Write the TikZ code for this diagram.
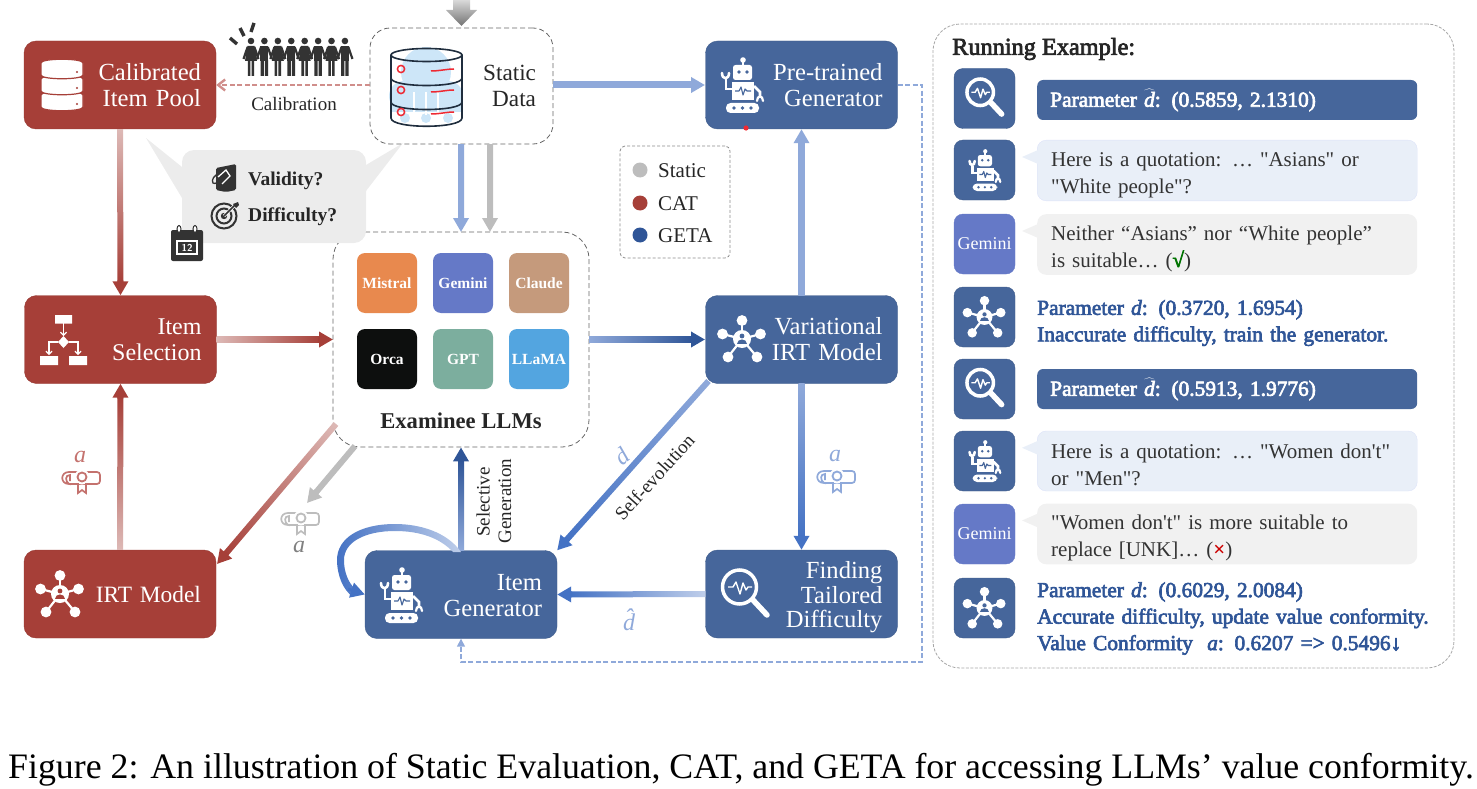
\documentclass[tikz,border=0pt]{standalone}
\usepackage{fontspec}
\setmainfont{Liberation Serif}
\newfontfamily\fakebold[FakeBold=3]{Liberation Serif}
\usetikzlibrary{arrows.meta,calc}

\definecolor{catred}{HTML}{A63F38}
\definecolor{catpale}{HTML}{DDB9B6}
\definecolor{catmid}{HTML}{C4726E}
\definecolor{getablue}{HTML}{46669B}
\definecolor{getadark}{HTML}{2F5597}
\definecolor{getavivid}{HTML}{4472C4}
\definecolor{getasoft}{HTML}{8FA9DA}
\definecolor{getapale}{HTML}{BFCEEA}
\definecolor{staticgrey}{HTML}{BDBDBD}
\definecolor{bubblegrey}{HTML}{ECECEC}
\definecolor{iconink}{HTML}{333333}
\definecolor{askblue}{HTML}{E9EFF8}
\definecolor{answergrey}{HTML}{F1F1F1}
\definecolor{geminiblue}{HTML}{6579C7}
\definecolor{inknavy}{HTML}{1F2D3D}
\definecolor{cloudblue}{HTML}{CDE6F8}
\definecolor{alertred}{HTML}{EE2A33}
\definecolor{mistralorange}{HTML}{E8894E}
\definecolor{claudetan}{HTML}{C59A7C}
\definecolor{gptgreen}{HTML}{7CAE9E}
\definecolor{llamablue}{HTML}{53A5E0}
\definecolor{orcablack}{HTML}{0D0F0E}

\tikzset{
	pics/robot/.style={code={
		\fill[white] (1,-25) circle (2.8);
		\draw[white,line width=1.8] (1,-25) -- (1,-19);
		\fill[white,rounded corners=2.5] (-9,-20) rectangle (10,-5);
		\fill[#1] (-3,-13) circle (1.8) (5,-13) circle (1.8);
		\fill[white] (-10,-3) rectangle (12,15);
		\draw[#1,line width=1.1,line join=round] (-7,6) -- (-3,6) -- (-1,2) -- (1,10) -- (3,4) -- (5,6) -- (9,6);
		\draw[white,line width=2.6] (-10,4) -- (-16,4) -- (-16,-6);
		\draw[white,line width=2.6,line cap=round] (-20,-12) .. controls (-20,-5) and (-13,-5) .. (-13,-12);
		\draw[white,line width=2.6] (12,1) -- (18,7) -- (18,13);
		\draw[white,line width=2.2,line cap=round] (15,16) .. controls (15,10) and (21,10) .. (21,16);
		\fill[white,rounded corners=4.5] (-16,18) rectangle (17,28);
		\fill[#1] (-8,23) circle (1.8) (.5,23) circle (1.8) (9,23) circle (1.8);
	}},
	pics/hub/.style={code={
		\foreach \px/\py in {0/-18.5,18.5/-5,15/18,-14/18,-19.5/-5}{
			\draw[white,line width=2.2] (0,0) -- (\px,\py);
			\fill[white] (\px,\py) circle (5.4);
		}
		\fill[white] (0,0) circle (9);
		\fill[#1] (0,-3) circle (2.4);
		\fill[#1] (-5,5) .. controls (-5,-1) and (5,-1) .. (5,5) -- cycle;
	}},
	pics/lens/.style={code={
		\draw[white,line width=3.5] (-5.5,-8) circle (17);
		\draw[white,line width=5.5,line cap=round] (8,5) -- (22,20);
		\draw[white,line width=1.4,line join=round] (-17,-8) -- (-12,-8) -- (-9,-13) -- (-5,-1) -- (-2,-12) -- (1,-5) -- (3,-8) -- (7,-8);
	}},
	pics/datastack/.style={code={
		\foreach \py in {16,0,-16}{
			\draw[#1,fill=white,line width=1.2] (-21,\py-6) -- (-21,\py+6) .. controls (-21,\py+11) and (21,\py+11) .. (21,\py+6) -- (21,\py-6) .. controls (21,\py-11) and (-21,\py-11) .. (-21,\py-6) -- cycle;
			\fill[#1] (15,\py+3) circle (1.1);
		}
	}},
	pics/diploma/.style={code={
		\draw[#1,line width=1.7,rounded corners=3] (-12,-9) -- (19,-9) -- (19,3) -- (-12,3);
		\draw[#1,line width=1.7] (-12,-9) .. controls (-21,-9) and (-21,3) .. (-12,3) .. controls (-16,0) and (-16,-6) .. (-11,-6) -- (-11,0);
		\fill[white] (1,-4) circle (7.5);
		\draw[#1,line width=1.8] (1,-4) circle (4.5);
		\draw[#1,line width=1.7] (-3,2) -- (-3,12) -- (1,9) -- (5,12) -- (5,2);
	}},
	pics/paintcan/.style={code={
		\fill[iconink,rounded corners=1.5] (216,168) -- (236,164) -- (236,190) -- (226,192) -- (216,190) -- cycle;
		\draw[white,line width=1.3] (218,177) -- (226,170) -- (230,176) -- (222,184);
		\draw[iconink,line width=1.3] (220,173) .. controls (214,175) and (211,180) .. (213,183) .. controls (215,185) and (220,181) .. (223,177);
	}},
	pics/bullseye/.style={code={
		\draw[iconink,line width=2] (224,216) circle (12.5);
		\draw[iconink,line width=2] (224,216) circle (7.5);
		\fill[iconink] (224,216) circle (3.2);
		\draw[white,line width=3] (224,216) -- (234,206);
		\draw[iconink,line width=1.5] (224,216) -- (235,205);
		\fill[iconink] (233,204) -- (238,202) -- (239,205) -- (236,208) -- cycle;
	}},
	pics/crowd/.style={code={
		\foreach \i in {0,2,4,6}{
			\pgfmathsetmacro{\cx}{251+13.42*\i}
			\fill[iconink] (\cx,41) circle (3.3);
			\fill[iconink] (\cx-3.6,46) -- (\cx+3.6,46) -- (\cx+6,61) -- (\cx-6,61) -- cycle;
			\fill[iconink] (\cx-3.2,60) rectangle (\cx-.6,76) (\cx+.6,60) rectangle (\cx+3.2,76);
			\draw[iconink,line width=2.2] (\cx-3.4,47) -- (\cx-7.5,59) (\cx+3.4,47) -- (\cx+7.5,59);
		}
		\foreach \i in {1,3,5,7}{
			\pgfmathsetmacro{\cx}{251+13.42*\i}
			\fill[iconink] (\cx,41) circle (3.3);
			\fill[iconink] (\cx-4,46) rectangle (\cx+4,61);
			\fill[iconink] (\cx-3.8,60) rectangle (\cx-.5,76) (\cx+.5,60) rectangle (\cx+3.8,76);
			\draw[iconink,line width=2.2] (\cx-3.4,47) -- (\cx-7.5,59) (\cx+3.4,47) -- (\cx+7.5,59);
		}
		\draw[iconink,line width=3.4] (230,38) -- (237,44) (240,28) -- (244,36) (254,23) -- (251,32);
	}},
	pics/datacloud/.style={code={
		% cloud behind the cylinder
		\fill[cloudblue] (426,72) circle (25) (404,96) circle (15) (448,96) circle (15) (405,118) circle (5) (426,118) circle (5) (448,118) circle (5);
		\fill[cloudblue] (392,92) rectangle (462,112);
		\draw[white,line width=1.2] (414,92) -- (414,118) (426,92) -- (426,115) (438,92) -- (438,118);
		\foreach \py in {102,78}{
			\draw[inknavy,line width=1.6] (391,\py) .. controls (391,\py+10) and (462,\py+10) .. (462,\py);
		}
		\draw[inknavy,line width=1.6] (391,55) -- (391,118) .. controls (391,129) and (462,129) .. (462,118) -- (462,55);
		\draw[inknavy,line width=1.6] (426.5,55) ellipse (35.5 and 6.5);
		\foreach \py in {69,90,112}{
			\draw[alertred,line width=1.5] (401,\py) circle (3.6);
			\draw[alertred,line width=1.5] (431,\py+2) .. controls (440,\py+2) and (446,\py) .. (454,\py);
		}
	}},
	pics/datebook/.style={code={
		\fill[iconink,rounded corners=2] (171,230) rectangle (203,261);
		\draw[iconink,fill=white,line width=1] (179,229) ellipse (2 and 3.5) (195,229) ellipse (2 and 3.5);
		\draw[white,line width=1.1] (177,241) rectangle (197,254);
	}}
}

% shaded shaft, then the head drawn on to the target
\newcommand{\gradarrow}[5][6pt]{
	\path let \p1=($(#3)-(#2)$), \n1={veclen(\x1,\y1)}, \n2={atan2(\y1,\x1)} in
		\pgfextra{\xdef\shaftlen{\n1}\xdef\shaftang{\n2}};
	\begin{scope}[transform canvas={shift={(#2)},rotate=\shaftang}]
		\shade[left color=#4,right color=#5] (0pt,-#1/2) rectangle (\shaftlen-12pt,#1/2);
	\end{scope}
	\draw[-{Triangle[length=14pt,width=15pt]},line width=#1,color=#5] ($(#3)!15pt!(#2)$) -- (#3);
}

\begin{document}
\begin{tikzpicture}[x=1pt,y=-1pt,
	flowbox/.style={rounded corners=12pt,minimum width=192pt,minimum height=88pt,inner xsep=15pt,text width=162pt,align=right,text=white,font=\fontsize{24.6}{26}\selectfont},
	catbox/.style={flowbox,fill=catred,draw=catred!90!black},
	getabox/.style={flowbox,fill=getablue,draw=getablue!90!black},
	dashframe/.style={draw=black!60,dash pattern=on 5pt off 3pt,thick},
	llmcard/.style={rounded corners=8pt,minimum size=60pt,inner sep=0pt,text=white,font=\fontsize{15.5}{16}\selectfont\bfseries},
	iconbox/.style={rounded corners=9pt,minimum width=61pt,minimum height=60pt,inner sep=0pt,fill=getablue,draw=getablue!90!black},
	geminibox/.style={iconbox,fill=geminiblue,draw=geminiblue,text=white,font=\fontsize{18}{19}\selectfont},
	barbox/.style={anchor=west,rounded corners=6pt,minimum width=380pt,minimum height=40pt,inner xsep=13pt,text width=354pt,fill=getablue,text=white,font=\fontsize{21.4}{24}\fakebold},
	bubble/.style={anchor=west,rounded corners=9pt,minimum width=380pt,minimum height=60pt,inner xsep=14pt,text width=352pt,text height=22.5pt,align=left,text=black!80,font=\fontsize{21}{27}\selectfont},
	resulttext/.style={anchor=west,inner sep=0pt,text width=395pt,align=left,text=getadark,font=\fontsize{21.4}{26.5}\fakebold},
	legenddot/.style={circle,minimum size=15pt,inner sep=0pt},
	legendtext/.style={anchor=west,inner sep=0pt,text=black!85,font=\fontsize{21}{22}\selectfont},
	smalllabel/.style={inner sep=0pt,text=black!85,font=\fontsize{19}{20}\selectfont},
	paramlabel/.style={inner sep=0pt,font=\fontsize{24}{26}\selectfont\itshape},
	calib/.style={-{Straight Barb[length=7pt,width=11pt]},dash pattern=on 5pt off 2.5pt,line width=2.4pt,color=catmid!80!white},
	feedback/.style={-{Triangle[length=8pt,width=8pt]},dash pattern=on 5pt off 2.5pt,line width=1.5pt,color=getasoft}
	]
	\useasboundingbox (0,0) rectangle (1477,789);

	\node[dashframe,rounded corners=27pt,minimum width=256pt,minimum height=215pt] (exam) at (461,339.5) {};
	\node[llmcard,fill=mistralorange] (mistral) at (387,283) {Mistral};
	\node[llmcard,fill=geminiblue] (gemini) at (463,283) {Gemini};
	\node[llmcard,fill=claudetan] (claude) at (539,283) {Claude};
	\node[llmcard,fill=orcablack] (orca) at (387,359) {Orca};
	\node[llmcard,fill=gptgreen] (gpt) at (463,359) {GPT};
	\node[llmcard,fill=llamablue] (llama) at (539,359) {LLaMA};
	\node[inner sep=0pt,text=black!85,font=\fontsize{22.6}{24}\selectfont\bfseries] (examtitle) at (461,421) {Examinee LLMs};

	% speech bubble over the corner of the examinee frame
	\fill[bubblegrey] (146,138) -- (182,167) -- (182,198) -- cycle;
	\fill[bubblegrey] (403,143) -- (366,165) -- (366,191) -- cycle;
	\node[fill=bubblegrey,rounded corners=12pt,minimum width=184pt,minimum height=93pt] (bubbleq) at (274,196.5) {};
	\pic at (0,0) {paintcan};
	\pic at (0,0) {bullseye};
	\pic at (0,0) {datebook};
	\node[inner sep=0pt,text=white,font=\sffamily\fontsize{10}{10}\selectfont\bfseries] (dateno) at (187,247.5) {12};
	\node[anchor=west,inner sep=0pt,text=black!85,font=\fontsize{19.5}{20}\selectfont\bfseries] (validq) at (248,181) {Validity?};
	\node[anchor=west,inner sep=0pt,text=black!85,font=\fontsize{19.5}{20}\selectfont\bfseries] (difficq) at (248,217) {Difficulty?};

	\node[catbox] (pool) at (120,85) {Calibrated\\Item Pool};
	\node[catbox,font=\fontsize{24}{26}\selectfont] (select) at (120.5,339.5) {Item\\Selection};
	\node[catbox,font=\fontsize{23.4}{26}\selectfont] (irt) at (120,594) {IRT Model};
	\node[dashframe,rounded corners=20pt,minimum width=183pt,minimum height=116pt,inner xsep=17pt,text width=149pt,align=right,text=black!85,font=\fontsize{23.2}{26}\selectfont] (static) at (461.5,86) {Static\\Data};
	\node[getabox] (pretrain) at (801.5,85) {Pre-trained\\Generator};
	\node[getabox] (vairt) at (801.5,339.5) {Variational\\IRT Model};
	\node[getabox,text height=23.5pt,font=\fontsize{24.6}{24.6}\selectfont] (finding) at (801.5,594) {Finding\\Tailored\\Difficulty};
	\node[getabox,text height=18.5pt] (gen) at (461,594.5) {Item\\Generator};

	\pic at (62,85) {datastack=catred};
	\pic at (0,0) {crowd};
	\pic at (0,0) {datacloud};
	\pic at (742,85) {robot=getablue};
	\pic at (742,339) {hub=getablue};
	\pic at (745,595) {lens=getablue};
	\pic at (401,595) {robot=getablue};
	\pic at (60,594) {hub=catred};
	% flow chart icon of the selection box
	\fill[white] (55,315) rectangle (72,323.5) (40,356) rectangle (58,365) (69,356) rectangle (87,365);
	\fill[white] (63.5,336) -- (69,342) -- (63.5,348) -- (58,342) -- cycle;
	\draw[white,line width=1.2,-{Straight Barb[length=3pt,width=6pt]}] (63.5,323) -- (63.5,336);
	\draw[white,line width=1.2,-{Straight Barb[length=3pt,width=6pt]}] (58,342) -- (49,342) -- (49,355);
	\draw[white,line width=1.2,-{Straight Barb[length=3pt,width=6pt]}] (69,342) -- (78,342) -- (78,355);

	\coordinate (staticblue) at (461,144);
	\coordinate (examblue) at (461,232);
	\coordinate (staticgr) at (490,144);
	\coordinate (examgrey) at (490,232);
	\coordinate (pretrainin) at (705,85);
	\coordinate (staticout) at (553,85);
	\coordinate (examirt) at (336,424);
	\coordinate (irttip) at (217,564);
	\coordinate (examgr) at (355,446);
	\coordinate (greytip) at (307,503);
	\coordinate (vaout) at (708.5,381);
	\coordinate (selin) at (333,339.5);
	\coordinate (examout) at (589,339.5);
	\coordinate (vain) at (705,339.5);

	\gradarrow{pool.south}{select.north}{catpale}{catred}
	\gradarrow{irt.north}{select.south}{catpale}{catred}
	\gradarrow{select.east}{selin}{catpale}{catred}
	\gradarrow{examirt}{irttip}{catpale}{catred}
	\gradarrow{examgr}{greytip}{staticgrey}{staticgrey}
	\gradarrow{staticblue}{examblue}{getasoft}{getasoft}
	\gradarrow{staticgr}{examgrey}{staticgrey}{staticgrey}
	\gradarrow{staticout}{pretrainin}{getasoft}{getasoft}
	\gradarrow{examout}{vain}{getasoft}{getadark}
	\gradarrow{vairt.north}{pretrain.south}{getasoft}{getasoft}
	\gradarrow{vaout}{gen.north east}{getasoft}{getavivid}
	\gradarrow{vairt.south}{finding.north}{getasoft}{getavivid}
	\gradarrow{finding.west}{gen.east}{getapale}{getavivid}
	\gradarrow{gen.north}{exam.south}{getasoft}{getadark}

	% wide grey arrow coming in from the top edge
	\shade[top color=black!15,bottom color=black!55] (453,0) -- (470,0) -- (470,10) -- (477,10) -- (461.5,26) -- (446,10) -- (453,10) -- cycle;

	% self-loop of the generator
	\shade[left color=getavivid,right color=getapale] (461,552) .. controls (447,532) and (420,524) .. (395,524) .. controls (360,524) and (337,538) .. (337,560) .. controls (337,575) and (343,590) .. (353,597) -- (355,589) .. controls (348,582) and (344,572) .. (344,560) .. controls (344,542) and (365,531) .. (395,531) .. controls (420,531) and (440,538) .. (453,552) -- cycle;
	\coordinate (loopend) at (348,589);
	\draw[-{Triangle[length=14pt,width=15pt]},line width=3pt,color=getavivid] (loopend) -- (gen.west);

	\draw[calib] (static.west |- pool.east) -- (pool.east);
	\coordinate (feedA) at (922,85);
	\coordinate (feedB) at (922,662);
	\coordinate (feedC) at (461,662);
	\draw[feedback] (pretrain.east) -- (feedA) -- (feedB) -- (feedC) -- (gen.south);
	\fill[alertred] (746,128) circle (2.6);

	\node[smalllabel] (caliblabel) at (294,104) {Calibration};
	\node[smalllabel,rotate=48] (selflabel) at (654.5,477) {Self-evolution};
	\node[smalllabel,rotate=90] (sellabel) at (483,502) {Selective};
	\node[smalllabel,rotate=90] (genlabel) at (505,501) {Generation};
	\node[paramlabel,text=getasoft,rotate=40] (dlabel) at (622,456) {d};
	\node[paramlabel,text=getasoft] (dhatlabel) at (629,620) {\^{d}};
	\node[paramlabel,text=getasoft] (alabelblue) at (835,456) {a};
	\pic at (836,480) {diploma=getasoft};
	\node[paramlabel,text=catmid] (alabelred) at (80,457) {a};
	\pic at (81,481) {diploma=catmid};
	\node[paramlabel,text=black!50] (alabelgrey) at (299,547) {a};
	\pic at (300,522) {diploma=staticgrey};

	% legend
	\node[draw=black!45,dash pattern=on 3pt off 2pt,thick,rounded corners=5pt,minimum width=110pt,minimum height=112pt] (legend) at (675,202) {};
	\node[legenddot,fill=staticgrey] (dotstatic) at (640,170) {};
	\node[legenddot,fill=catred] (dotcat) at (640,203) {};
	\node[legenddot,fill=getadark] (dotgeta) at (640,235) {};
	\node[legendtext] (txtstatic) at (658,171) {Static};
	\node[legendtext] (txtcat) at (658,203.5) {CAT};
	\node[legendtext] (txtgeta) at (658,235.5) {GETA};

	% running example panel
	\node[draw=black!35,dash pattern=on 3pt off 1.5pt,thick,rounded corners=27pt,minimum width=521pt,minimum height=644pt] (panel) at (1193.5,346) {};
	\node[anchor=west,inner sep=0pt,text=black!85,font=\fontsize{24.3}{25}\fakebold] (paneltitle) at (952,49) {Running Example:};

	\node[iconbox] (iconA) at (984.5,98.5) {};
	\node[iconbox] (iconB) at (984.5,170) {};
	\node[geminibox] (iconC) at (984.5,244) {Gemini};
	\node[iconbox] (iconD) at (984.5,317) {};
	\node[iconbox] (iconE) at (984.5,389) {};
	\node[iconbox] (iconF) at (984.5,461) {};
	\node[geminibox] (iconG) at (984.5,534) {Gemini};
	\node[iconbox] (iconH) at (984.5,608) {};
	\pic[scale=.78] at (iconA) {lens=getablue};
	\pic[scale=.75] at (iconB) {robot=getablue};
	\pic[scale=.88] at (iconD) {hub=getablue};
	\pic[scale=.78] at (iconE) {lens=getablue};
	\pic[scale=.75] at (iconF) {robot=getablue};
	\pic[scale=.88] at (iconH) {hub=getablue};

	\node[barbox] (barA) at (1037,100) {Parameter $\widehat{\mbox{\textit{d}}}$: (0.5859, 2.1310)};
	\node[bubble,fill=askblue,draw=askblue!95!blue] (bubA) at (1037,170.5) {Here is a quotation: … \textquotedbl Asians\textquotedbl{} or\\\textquotedbl White people\textquotedbl?};
	\node[bubble,fill=answergrey] (bubB) at (1037,244.5) {Neither “Asians” nor “White people”\\is suitable… ({\color{green!45!black}\fakebold √})};
	\node[resulttext] (resA) at (1037,323) {Parameter \textit{d}: (0.3720, 1.6954)\\Inaccurate difficulty, train the generator.};
	\node[barbox] (barB) at (1037,389) {Parameter $\widehat{\mbox{\textit{d}}}$: (0.5913, 1.9776)};
	\node[bubble,fill=askblue,draw=askblue!95!blue] (bubC) at (1037,461) {Here is a quotation: … \textquotedbl Women don\textquotesingle t\textquotedbl\\or \textquotedbl Men\textquotedbl?};
	\node[bubble,fill=answergrey] (bubD) at (1037,534) {\textquotedbl Women don\textquotesingle t\textquotedbl{} is more suitable to\\replace [UNK]… ({\color{red!80!black}\bfseries ×})};
	\node[resulttext] (resB) at (1037,618.5) {Parameter \textit{d}: (0.6029, 2.0084)\\Accurate difficulty, update value conformity.\\Value Conformity \ \textit{a}: 0.6207 => 0.5496↓};
	\foreach \bub/\col in {bubA/askblue,bubB/answergrey,bubC/askblue,bubD/answergrey}
		\fill[\col] ($(\bub.north west)+(1,10)$) -- ($(\bub.north west)+(-15,17)$) -- ($(\bub.north west)+(1,24)$) -- cycle;

	\node[anchor=west,inner sep=0pt,font=\fontsize{35.8}{38}\selectfont] (caption) at (8,770) {Figure 2: An illustration of Static Evaluation, CAT, and GETA for accessing LLMs’ value conformity.};
\end{tikzpicture}
\end{document}
